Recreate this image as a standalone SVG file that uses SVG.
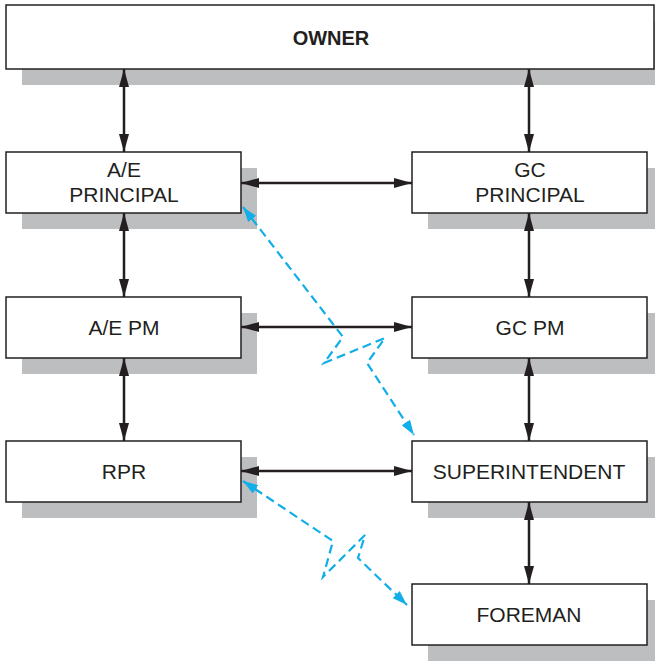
<svg xmlns="http://www.w3.org/2000/svg" width="655" height="661" viewBox="0 0 655 661">
  <style>
    .shadow { fill: #bcbec0; }
    .box { fill: #ffffff; stroke: #231f20; stroke-width: 1.5; }
    .label { font-family: "Liberation Sans", Arial, sans-serif; font-size: 21px; fill: #231f20; text-anchor: middle; }
    .bold { font-weight: bold; font-size: 20px; }
    .link { fill: none; stroke: #231f20; stroke-width: 2.5; marker-start: url(#arrowBlack); marker-end: url(#arrowBlack); }
    .informal { fill: none; stroke: #12aee9; stroke-width: 2.2; stroke-dasharray: 9 5; marker-start: url(#arrowBlue); marker-end: url(#arrowBlue); }
  </style>
  <defs>
    <marker id="arrowBlack" viewBox="0 0 18 10" refX="18" refY="5" markerWidth="18" markerHeight="10" markerUnits="userSpaceOnUse" orient="auto-start-reverse">
      <path d="M0,0 L18,5 L0,10 Z" fill="#231f20"/>
    </marker>
    <marker id="arrowBlue" viewBox="0 0 15 10" refX="15" refY="5" markerWidth="15" markerHeight="10" markerUnits="userSpaceOnUse" orient="auto-start-reverse">
      <path d="M0,0 L15,5 L0,10 Z" fill="#12aee9"/>
    </marker>
  </defs>

  <rect width="655" height="661" fill="#ffffff"/>

  <g id="owner">
    <rect class="shadow" x="22" y="21" width="640" height="64"/>
    <rect class="box" x="6" y="5" width="648" height="64"/>
    <text class="label bold" x="331" y="45">OWNER</text>
  </g>

  <g id="ae-principal">
    <rect class="shadow" x="22" y="168" width="235" height="61"/>
    <rect class="box" x="6" y="152" width="235" height="61"/>
    <text class="label" x="124" y="177">A/E</text>
    <text class="label" x="124" y="202">PRINCIPAL</text>
  </g>

  <g id="gc-principal">
    <rect class="shadow" x="428" y="168" width="235" height="61"/>
    <rect class="box" x="412" y="152" width="235" height="61"/>
    <text class="label" x="530" y="177">GC</text>
    <text class="label" x="530" y="202">PRINCIPAL</text>
  </g>

  <g id="ae-pm">
    <rect class="shadow" x="22" y="313" width="235" height="61"/>
    <rect class="box" x="6" y="297" width="235" height="61"/>
    <text class="label" x="124" y="335">A/E PM</text>
  </g>

  <g id="gc-pm">
    <rect class="shadow" x="428" y="313" width="235" height="61"/>
    <rect class="box" x="412" y="297" width="235" height="61"/>
    <text class="label" x="530" y="335">GC PM</text>
  </g>

  <g id="rpr">
    <rect class="shadow" x="22" y="457" width="235" height="61"/>
    <rect class="box" x="6" y="441" width="235" height="61"/>
    <text class="label" x="124" y="479">RPR</text>
  </g>

  <g id="superintendent">
    <rect class="shadow" x="428" y="457" width="235" height="61"/>
    <rect class="box" x="412" y="441" width="235" height="61"/>
    <text class="label" x="529" y="479">SUPERINTENDENT</text>
  </g>

  <g id="foreman">
    <rect class="shadow" x="428" y="600" width="235" height="61"/>
    <rect class="box" x="412" y="584" width="235" height="61"/>
    <text class="label" x="529" y="622">FOREMAN</text>
  </g>

  <g id="connectors">
    <!-- formal lines of communication -->
    <line class="link" x1="124" y1="69" x2="124" y2="152"/>
    <line class="link" x1="124" y1="213" x2="124" y2="297"/>
    <line class="link" x1="124" y1="358" x2="124" y2="441"/>
    <line class="link" x1="529" y1="69" x2="529" y2="152"/>
    <line class="link" x1="529" y1="213" x2="529" y2="297"/>
    <line class="link" x1="529" y1="358" x2="529" y2="441"/>
    <line class="link" x1="529" y1="502" x2="529" y2="584"/>
    <line class="link" x1="241" y1="183" x2="412" y2="183"/>
    <line class="link" x1="241" y1="327" x2="412" y2="327"/>
    <line class="link" x1="241" y1="471" x2="412" y2="471"/>
    <!-- informal lines with zigzag breaks -->
    <polyline class="informal" points="243,207 343,337 324,363 385,338 367,363 414,435"/>
    <polyline class="informal" points="243,481 333,541 323,577 365,535 358,558 407,605"/>
  </g>
</svg>
